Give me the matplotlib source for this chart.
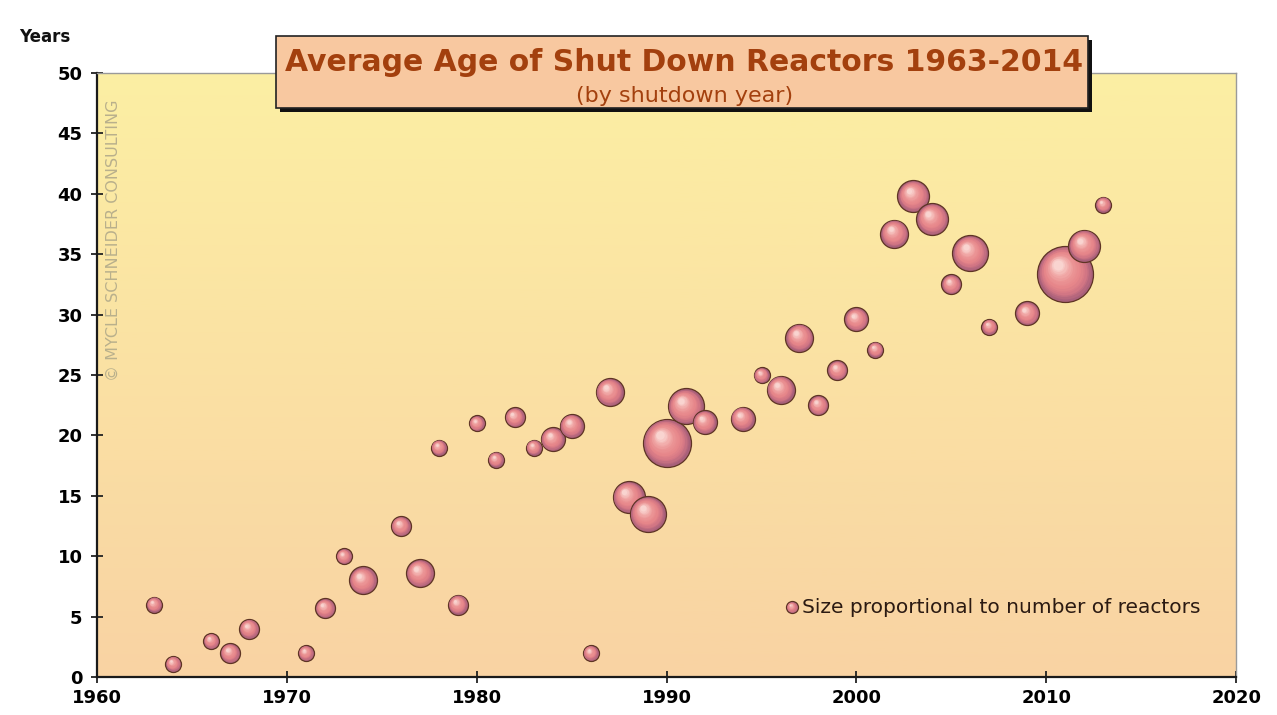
import numpy as np
import matplotlib
matplotlib.use("Agg")
import matplotlib.pyplot as plt
import matplotlib.transforms as mtransforms
from matplotlib.patches import Rectangle
from matplotlib.colors import LinearSegmentedColormap

# shutdown year, average age (years), number of reactors shut down
years = [1963, 1964, 1966, 1967, 1968, 1971, 1972, 1973, 1974, 1976,
         1977, 1978, 1979, 1980, 1981, 1982, 1983, 1984, 1985, 1986,
         1987, 1988, 1989, 1990, 1991, 1992, 1994, 1995, 1996, 1997,
         1998, 1999, 2000, 2001, 2002, 2003, 2004, 2005, 2006, 2007,
         2009, 2011, 2012, 2013]
avg_age = [6.0, 1.1, 3.0, 2.0, 4.0, 2.0, 5.7, 10.0, 8.0, 12.5,
           8.6, 19.0, 6.0, 21.0, 18.0, 21.5, 19.0, 19.7, 20.8, 2.0,
           23.6, 14.9, 13.5, 19.4, 22.4, 21.1, 21.4, 25.0, 23.8, 28.1,
           22.5, 25.4, 29.6, 27.1, 36.7, 39.8, 37.9, 32.5, 35.1, 29.0,
           30.1, 33.4, 35.7, 39.1]
n_reactors = [1, 1, 1, 2, 2, 1, 2, 1, 4, 2,
              4, 1, 2, 1, 1, 2, 1, 3, 3, 1,
              4, 5, 6, 9, 6, 3, 3, 1, 4, 4,
              2, 2, 3, 1, 4, 5, 5, 2, 6, 1,
              3, 11, 5, 1]

x_ticks = [1960, 1970, 1980, 1990, 2000, 2010, 2020]
y_ticks = [0, 5, 10, 15, 20, 25, 30, 35, 40, 45, 50]

fig = plt.figure(figsize=(12.77, 7.15), dpi=100)
ax = fig.add_axes([0.076, 0.053, 0.892, 0.845])
ax.set_xlim(1960, 2020)
ax.set_ylim(0, 50)

# yellow to peach background
bg = LinearSegmentedColormap.from_list("bg", ["#f9d3a3", "#fcefa3"])
ax.imshow(np.linspace(0, 1, 256).reshape(-1, 1), cmap=bg, origin="lower",
          extent=[1960, 2020, 0, 50], aspect="auto", zorder=0)

ball_cmap = LinearSegmentedColormap.from_list(
    "ball", ["#a8607a", "#d27684", "#e6868a", "#eb9394", "#f2aeac", "#f9d4d0"])


def draw_ball(x, y, r_pt, z, trans=None):
    if trans is None:
        trans = ax.transData
    ax.scatter([x], [y], s=(2 * r_pt) ** 2, color="#a8607a",
               edgecolors="#5e3424", linewidths=0.9, zorder=z, transform=trans)
    nl = 16
    for i in range(1, nl):
        t = i / (nl - 1)
        rr = r_pt * (1 - 0.80 * t) - 0.4
        tr = mtransforms.offset_copy(trans, fig=fig, x=-0.26 * r_pt * t,
                                     y=0.32 * r_pt * t, units="points")
        ax.scatter([x], [y], s=(2 * rr) ** 2, color=ball_cmap(t),
                   linewidths=0, zorder=z + i * 1e-4, transform=tr)


for k, (yr, age, n) in enumerate(zip(years, avg_age, n_reactors)):
    r_px = 6 + 2 * n
    draw_ball(yr, age, r_px * 0.72, 3 + k * 0.01)

# legend note
draw_ball(0.610, 0.116, 6 * 0.72, 5, trans=ax.transAxes)
ax.text(0.619, 0.116, "Size proportional to number of reactors",
        transform=ax.transAxes, fontsize=14.5, color="#2b1a12",
        va="center", ha="left", zorder=5)

ax.set_xticks(x_ticks)
ax.set_yticks(y_ticks)
ax.tick_params(axis="both", direction="inout", length=9, width=1.3,
               labelsize=13, pad=4, color="#222222")
for lab in ax.get_xticklabels() + ax.get_yticklabels():
    lab.set_fontweight("bold")
ax.tick_params(axis="y", pad=6)
for s in ["left", "bottom"]:
    ax.spines[s].set_color("#1a1a1a")
    ax.spines[s].set_linewidth(1.6)
for s in ["top", "right"]:
    ax.spines[s].set_color("#9a9a9a")
    ax.spines[s].set_linewidth(1.0)

fig.text(0.035, 0.948, "Years", fontsize=12, fontweight="bold",
         ha="center", va="center", color="#111111")

# watermark
fig.text(0.0885, 0.664, "\u00a9 MYCLE SCHNEIDER CONSULTING", rotation=90,
         fontsize=11.5, color="#b9b08c", ha="center", va="center")

# title box with shadow
bx, by, bw, bh = 276 / 1277, 1 - 108 / 715, 812 / 1277, 72 / 715
fig.patches.append(Rectangle((bx + 4 / 1277, by - 4 / 715), bw, bh,
                             transform=fig.transFigure, facecolor="#111111",
                             edgecolor="none", zorder=10))
fig.patches.append(Rectangle((bx, by), bw, bh, transform=fig.transFigure,
                             facecolor="#f8c8a0", edgecolor="#222222",
                             linewidth=1.2, zorder=11))
fig.text(0.536, 0.913, "Average Age of Shut Down Reactors 1963-2014",
         fontsize=21.5, fontweight="bold", color="#a3400e",
         ha="center", va="center", zorder=12)
fig.text(0.536, 0.866, "(by shutdown year)", fontsize=16, color="#a3400e",
         ha="center", va="center", zorder=12)

plt.savefig("out.png", dpi=100)
